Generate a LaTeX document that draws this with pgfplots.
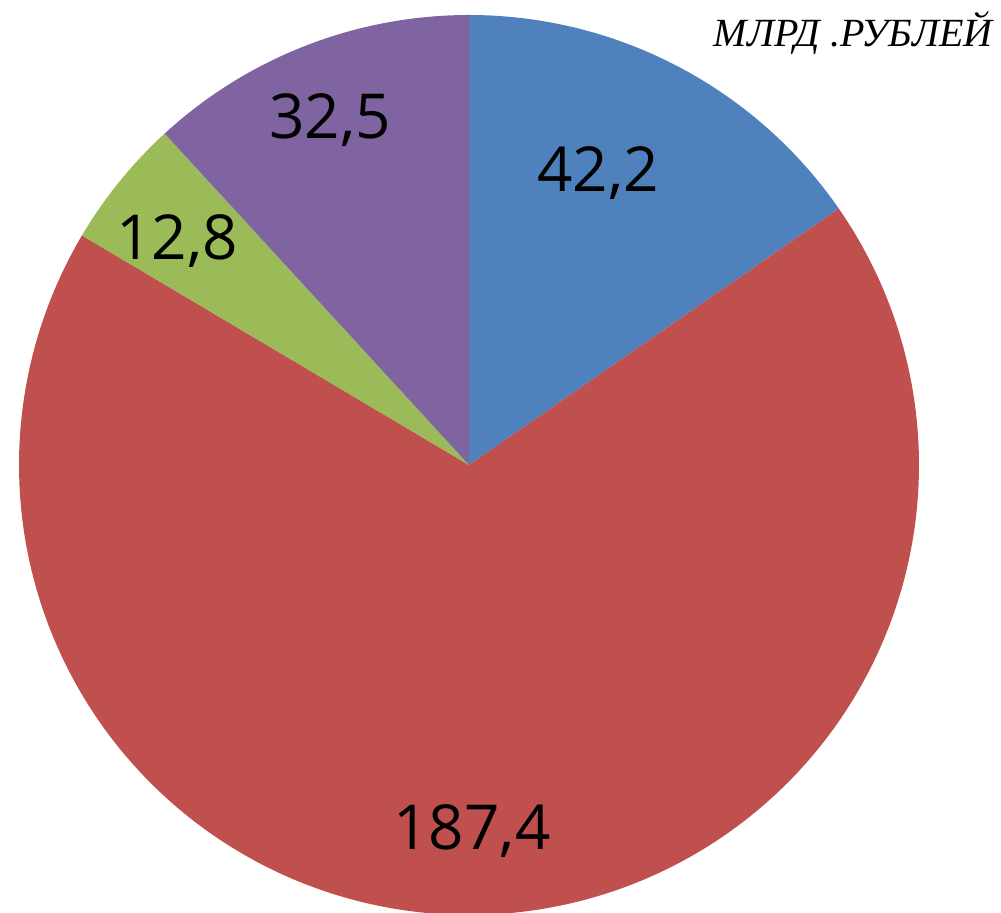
\documentclass[border=0pt]{standalone}
\usepackage{pgfplots}
\pgfplotsset{compat=1.18}
\usepackage{fontspec}
\setmainfont{Open Sans}
\newfontfamily\titlefont{Liberation Serif}
\definecolor{blueA}{HTML}{4F81BD}
\definecolor{redA}{HTML}{C0504D}
\definecolor{greenA}{HTML}{9BBB59}
\definecolor{purpleA}{HTML}{8064A2}
% values (billion rubles)
\def\vA{42.2}\def\vB{187.4}\def\vC{12.8}\def\vD{32.5}
\pgfmathsetmacro\tot{\vA+\vB+\vC+\vD}
\pgfmathsetmacro\aA{90}
\pgfmathsetmacro\aB{\aA-\vA/\tot*360}
\pgfmathsetmacro\aC{\aB-\vB/\tot*360}
\pgfmathsetmacro\aD{\aC-\vC/\tot*360}
\pgfmathsetmacro\aE{\aD-\vD/\tot*360}
\begin{document}
\begin{tikzpicture}
\begin{axis}[
  at={(0,0)}, anchor=south west,
  scale only axis, width=500.5pt, height=456.5pt,
  xmin=0, xmax=1001, ymin=0, ymax=913,
  hide axis,
]
\addplot[fill=blueA, draw=none, domain=\aB:\aA, samples=120, variable=\t]
  ({469+450*cos(t)},{448+450*sin(t)}) -- (axis cs:469,448) -- cycle;
\addplot[fill=redA, draw=none, domain=\aC:\aB, samples=300, variable=\t]
  ({469+450*cos(t)},{448+450*sin(t)}) -- (axis cs:469,448) -- cycle;
\addplot[fill=greenA, draw=none, domain=\aD:\aC, samples=60, variable=\t]
  ({469+450*cos(t)},{448+450*sin(t)}) -- (axis cs:469,448) -- cycle;
\addplot[fill=purpleA, draw=none, domain=\aE:\aD, samples=100, variable=\t]
  ({469+450*cos(t)},{448+450*sin(t)}) -- (axis cs:469,448) -- cycle;
\node[anchor=base, font=\fontsize{31}{36}\selectfont, inner sep=0pt] at (axis cs:598,721) {42,2};
\node[anchor=base, font=\fontsize{31}{36}\selectfont, inner sep=0pt] at (axis cs:472,63) {187,4};
\node[anchor=base, font=\fontsize{31}{36}\selectfont, inner sep=0pt] at (axis cs:177,653) {12,8};
\node[anchor=base, font=\fontsize{31}{36}\selectfont, inner sep=0pt] at (axis cs:330,774) {32,5};
\node[anchor=base east, font=\titlefont\itshape\fontsize{20}{24}\selectfont, inner sep=0pt] at (axis cs:993,866) {МЛРД .РУБЛЕЙ};
\end{axis}
\pgfresetboundingbox
\path[use as bounding box] (0,0) rectangle (500.5pt,456.5pt);
\end{tikzpicture}
\end{document}
